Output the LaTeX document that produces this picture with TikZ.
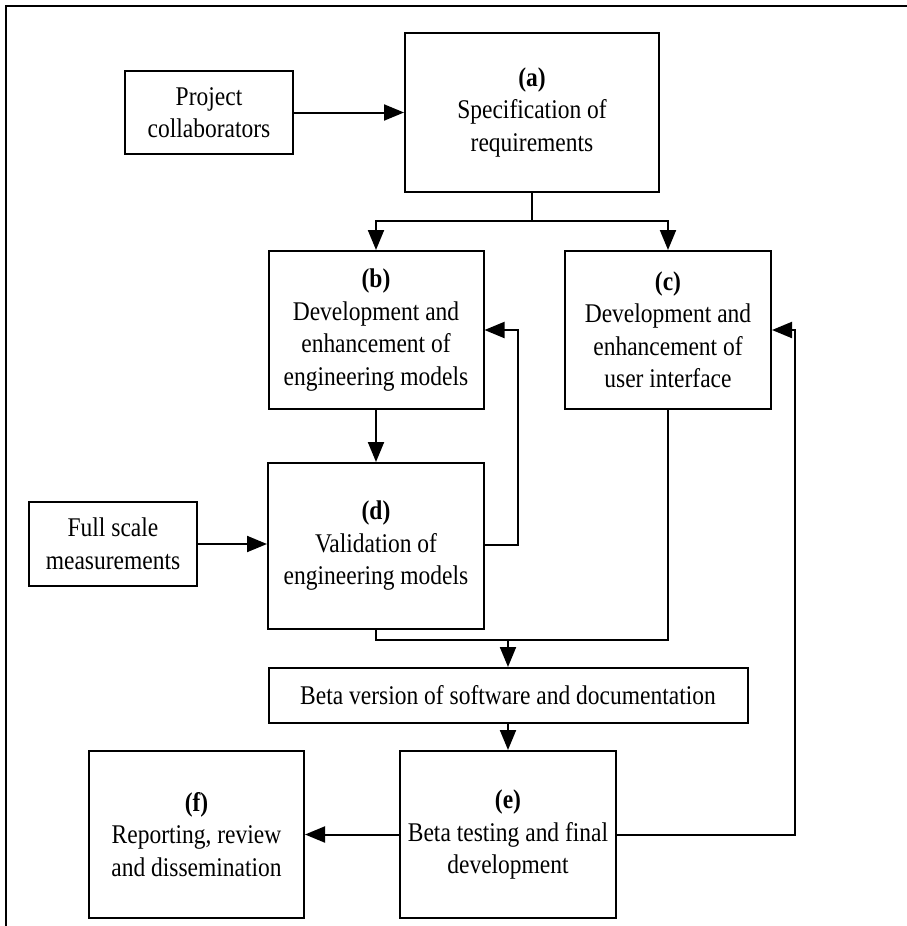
\documentclass[tikz,border=0pt]{standalone}
\usepackage{fontspec}
\setmainfont{Liberation Serif}[FakeStretch=0.87]
\usetikzlibrary{arrows.meta}
\tikzset{
  box/.style={draw=black, line width=2pt, fill=white, align=center, inner sep=0pt,
    font=\fontsize{27}{32.5}\selectfont},
  conn/.style={draw=black, line width=2pt},
  arr/.style={conn, -{Triangle[length=20pt,width=16pt]}},
  frame/.style={draw=black, line width=2pt}
}
\begin{document}
\begin{tikzpicture}[x=1pt,y=-1pt]
\useasboundingbox (0,0) rectangle (907,926);
% outer frame (top and left only)
\coordinate (ftr) at (907,6);
\coordinate (ftl) at (6,6);
\coordinate (fbl) at (6,926);
\draw[frame] (ftr) -- (ftl) -- (fbl);

% boxes
\node[box, minimum width=168pt, minimum height=83pt] (pc) at (209,112.5) {Project\\collaborators};
\node[box, minimum width=254pt, minimum height=159pt] (a) at (532,112.5) {\textbf{(a)}\\Specification of\\requirements};
\node[box, minimum width=215pt, minimum height=158pt] (b) at (376,330) {\textbf{(b)}\\Development and\\enhancement of\\engineering models};
\node[box, minimum width=206pt, minimum height=158pt] (c) at (668,330) {\textbf{(c)}\\Development and\\enhancement of\\user interface};
\node[box, minimum width=216pt, minimum height=166pt] (d) at (376,546) {\textbf{(d)}\\Validation of\\engineering models};
\node[box, minimum width=168pt, minimum height=84pt] (fs) at (113,544) {Full scale\\measurements};
\node[box, minimum width=479pt, minimum height=55pt] (beta) at (508,695.5) {Beta version of software and documentation};
\node[box, minimum width=216pt, minimum height=167pt] (e) at (508,834.5) {\textbf{(e)}\\Beta testing and final\\development};
\node[box, minimum width=215pt, minimum height=167pt] (f) at (196.5,834.5) {\textbf{(f)}\\Reporting, review\\and dissemination};

% junction coordinates
\coordinate (ja) at (532,221);
\coordinate (jbl) at (376,221);
\coordinate (jcr) at (668,221);
\coordinate (jd) at (518,545);
\coordinate (jdt) at (518,330);
\coordinate (jm) at (508,640);
\coordinate (jdl) at (376,640);
\coordinate (jcl) at (668,640);
\coordinate (je) at (795,835);
\coordinate (jet) at (795,330);

% connectors
\draw[arr] (pc.east) -- (a.west |- pc.east);
\draw[conn] (a.south) -- (ja);
\draw[arr] (ja) -- (jbl) -- (b.north);
\draw[arr] (ja) -- (jcr) -- (c.north);
\draw[arr] (b.south) -- (d.north);
\draw[arr] (fs.east) -- (d.west |- fs.east);
\draw[arr] (d.east |- jd) -- (jd) -- (jdt) -- (b.east |- jdt);
\draw[conn] (d.south) -- (jdl) -- (jcl) -- (c.south);
\draw[arr] (jm) -- (beta.north);
\draw[arr] (beta.south) -- (e.north);
\draw[arr] (e.west) -- (f.east);
\draw[arr] (e.east |- je) -- (je) -- (jet) -- (c.east |- jet);
\end{tikzpicture}
\end{document}
